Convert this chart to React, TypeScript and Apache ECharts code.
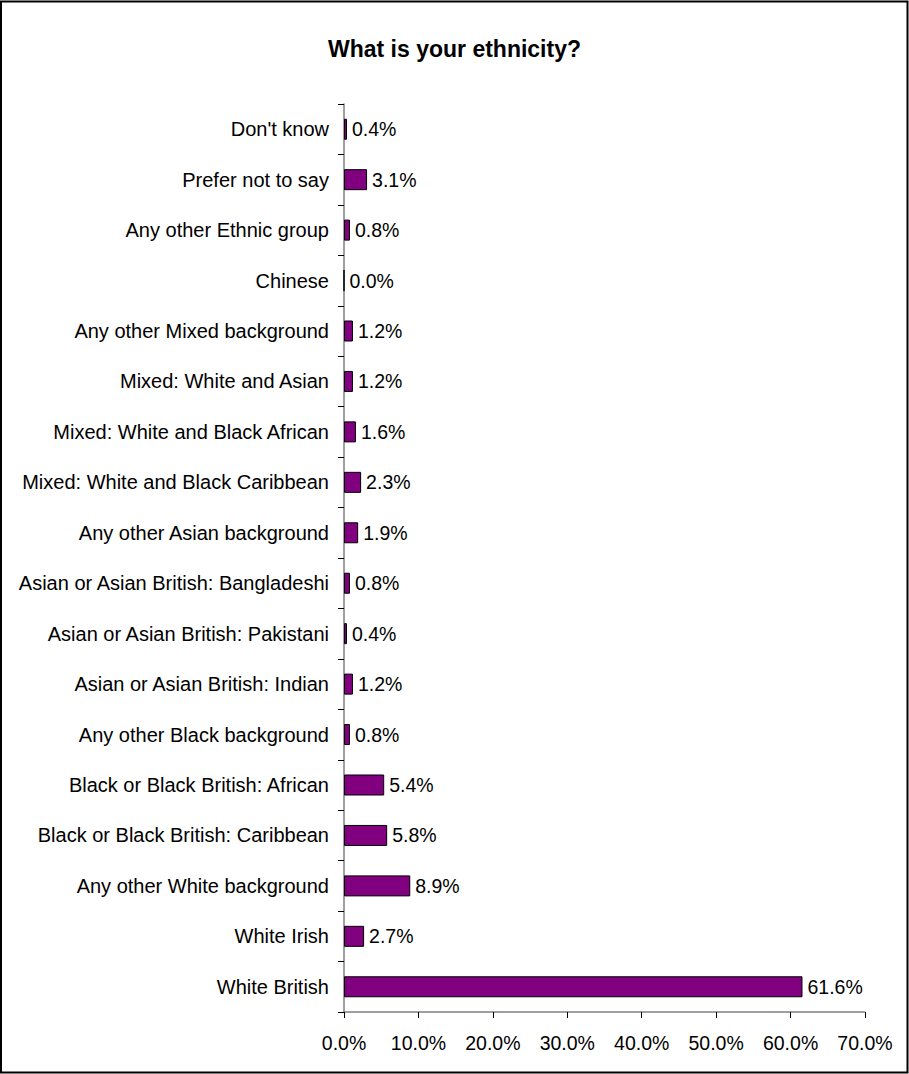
import React, { useEffect, useRef } from "react";
import * as echarts from "echarts";

const categories = [
  "Don't know",
  "Prefer not to say",
  "Any other Ethnic group",
  "Chinese",
  "Any other Mixed background",
  "Mixed: White and Asian",
  "Mixed: White and Black African",
  "Mixed: White and Black Caribbean",
  "Any other Asian background",
  "Asian or Asian British: Bangladeshi",
  "Asian or Asian British: Pakistani",
  "Asian or Asian British: Indian",
  "Any other Black background",
  "Black or Black British: African",
  "Black or Black British: Caribbean",
  "Any other White background",
  "White Irish",
  "White British",
];

const values = [
  0.4, 3.1, 0.8, 0.0, 1.2, 1.2, 1.6, 2.3, 1.9, 0.8, 0.4, 1.2, 0.8, 5.4, 5.8, 8.9, 2.7, 61.6,
];

const title = "What is your ethnicity?";
const xMin = 0;
const xMax = 70;
const xInterval = 10;

const FONT = "'Liberation Sans', Arial, sans-serif";

export default function App() {
  const ref = useRef<HTMLDivElement>(null);

  useEffect(() => {
    if (!ref.current) return;
    const chart = echarts.init(ref.current, undefined, { renderer: "svg" });
    chart.setOption({
      animation: false,
      backgroundColor: "#ffffff",
      title: {
        text: title,
        left: "center",
        top: 32,
        textStyle: {
          fontFamily: FONT,
          fontSize: 23,
          fontWeight: "bold",
          color: "#000",
        },
      },
      graphic: [
        {
          type: "rect",
          shape: { x: 1, y: 1.5, width: 906.5, height: 1071 },
          style: { fill: "none", stroke: "#000", lineWidth: 2 },
          silent: true,
        },
      ],
      grid: {
        left: 344,
        right: 44,
        top: 104,
        bottom: 62,
        containLabel: false,
      },
      xAxis: {
        type: "value",
        min: xMin,
        max: xMax,
        interval: xInterval,
        axisLine: { show: true, lineStyle: { color: "#808080", width: 1.5 } },
        axisTick: { show: true, length: 6, lineStyle: { color: "#000" } },
        splitLine: { show: false },
        axisLabel: {
          margin: 21,
          fontFamily: FONT,
          fontSize: 19.5,
          color: "#000",
          formatter: (v: number) => v.toFixed(1) + "%",
        },
      },
      yAxis: {
        type: "category",
        data: categories,
        inverse: true,
        axisLine: { show: true, lineStyle: { color: "#808080", width: 1.5 } },
        axisTick: { show: true, length: 6, lineStyle: { color: "#000" } },
        axisLabel: {
          margin: 15,
          fontFamily: FONT,
          fontSize: 20,
          color: "#000",
        },
      },
      series: [
        {
          type: "bar",
          data: values,
          barWidth: 21,
          itemStyle: {
            color: "#800080",
            borderColor: "#000",
            borderWidth: 1,
          },
          label: {
            show: true,
            position: "right",
            distance: 5,
            fontFamily: FONT,
            fontSize: 19.5,
            color: "#000",
            formatter: (p: any) => Number(p.value).toFixed(1) + "%",
          },
        },
      ],
    });
    return () => chart.dispose();
  }, []);

  return (
    <div
      ref={ref}
      style={{ position: "absolute", left: 0, top: 0, width: 909, height: 1074 }}
    />
  );
}
